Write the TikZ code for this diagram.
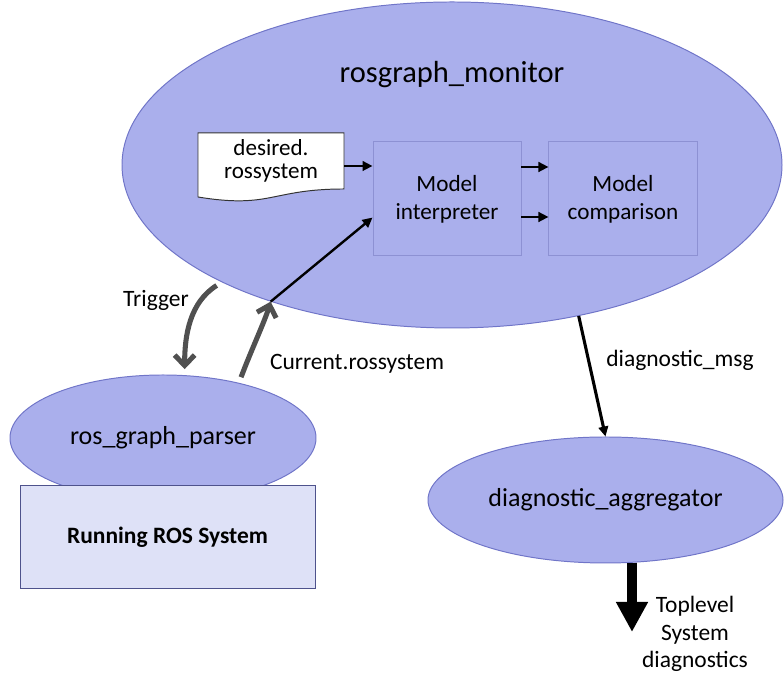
\documentclass[tikz,border=0pt]{standalone}
\usepackage{fontspec}
\setmainfont{Carlito}
\usepackage{xcolor}
\usetikzlibrary{shapes,arrows.meta,positioning,calc}

\definecolor{nodeblue}{RGB}{170,175,236}
\definecolor{edgeblue}{RGB}{112,117,200}
\definecolor{boxblue}{RGB}{222,225,247}
\definecolor{arrowgray}{RGB}{80,80,80}

\begin{document}
\begin{tikzpicture}[
    blob/.style={ellipse, draw=edgeblue, fill=nodeblue, line width=0.7pt, inner sep=0pt, font=\fontsize{18.5}{22}\selectfont},
    box/.style={rectangle, draw=edgeblue!80, fill=nodeblue, line width=0.7pt, minimum width=3.7cm, minimum height=2.85cm, align=center, font=\fontsize{16.5}{20}\selectfont},
    arrow/.style={-{Triangle[length=0.25cm,width=0.24cm]}, line width=1.7pt},
    grayarrow/.style={-{Straight Barb[length=0.26cm,width=0.5cm]}, line width=3.6pt, arrowgray, shorten <=0.15cm},
    lbl/.style={font=\fontsize{16.7}{19.5}\selectfont, align=center}
]
\useasboundingbox (0,0) rectangle (19.6,16.9);

% Monitor
\node[blob, minimum width=16.5cm, minimum height=8.15cm] (monitor) at (11.3,12.775) {};
\node[font=\fontsize{21.7}{26}\selectfont] (title) at (11.3,15.025) {rosgraph\_monitor};

% Desired model file
\draw[fill=white, draw=black!80, line width=0.7pt] (4.95,13.575) -- (8.6,13.575) -- (8.6,12.175)
    .. controls (6.775,12.175) and (6.775,11.675) .. (4.95,11.975) -- cycle;
\node[lbl, font=\fontsize{16.4}{16.5}\selectfont, minimum width=3.65cm, inner sep=0pt] (doc) at (6.775,12.875) {desired.\\rossystem};

% Model boxes
\node[box] (interp) at (11.175,11.925) {Model\\interpreter};
\node[box, right=0.675cm of interp] (comp) {Model\\comparison};

% Parser and ROS system
\node[blob, minimum width=7.65cm, minimum height=3.15cm] (parser) at (4.075,5.95) {ros\_graph\_parser};
\node[rectangle, draw=edgeblue!70!black, fill=boxblue, line width=0.7pt, minimum width=7.375cm, minimum height=2.55cm, font=\fontsize{16.7}{20}\selectfont\bfseries] (rossys) at (4.1875,3.475) {Running ROS System};

% Aggregator
\node[blob, minimum width=8.875cm, minimum height=3.15cm] (agg) at (15.1375,4.4) {diagnostic\_aggregator};
\coordinate (toptip) at (15.8,1.1);

% Arrows
\draw[arrow] ([yshift=-0.125cm]doc.east) -- ([yshift=-0.125cm]doc.east -| interp.west);
\draw[arrow] ([yshift=0.8cm]interp.east) -- ([yshift=0.8cm]comp.west);
\draw[arrow] ([yshift=-0.45cm]interp.east) -- ([yshift=-0.45cm]comp.west);
\draw[arrow] (monitor.217.5) -- (interp.194);
\draw[arrow, line width=2.2pt] (monitor.310.6) -- (agg.north);
\draw[grayarrow, shorten >=0.15cm] (monitor.207.5) .. controls +(-0.8,-0.5) and +(0,1.0) .. (parser.71.3);
\draw[grayarrow] (parser.36.9) .. controls +(0.3,0.8) and +(-0.15,-0.5) .. (monitor.217.5);
\draw[-{Triangle[length=0.75cm,width=0.75cm]}, line width=0.25cm] (agg.south -| toptip) -- (toptip);

% Labels
\node[lbl] (trig) at (3.9,9.4) {Trigger};
\node[lbl] (curr) at (8.925,7.8) {Current.rossystem};
\node[lbl] (msg) at (17.0,7.9) {diagnostic\_msg};
\node[lbl] (toplbl) at (17.375,1.05) {Toplevel\\System\\diagnostics};

\end{tikzpicture}
\end{document}
